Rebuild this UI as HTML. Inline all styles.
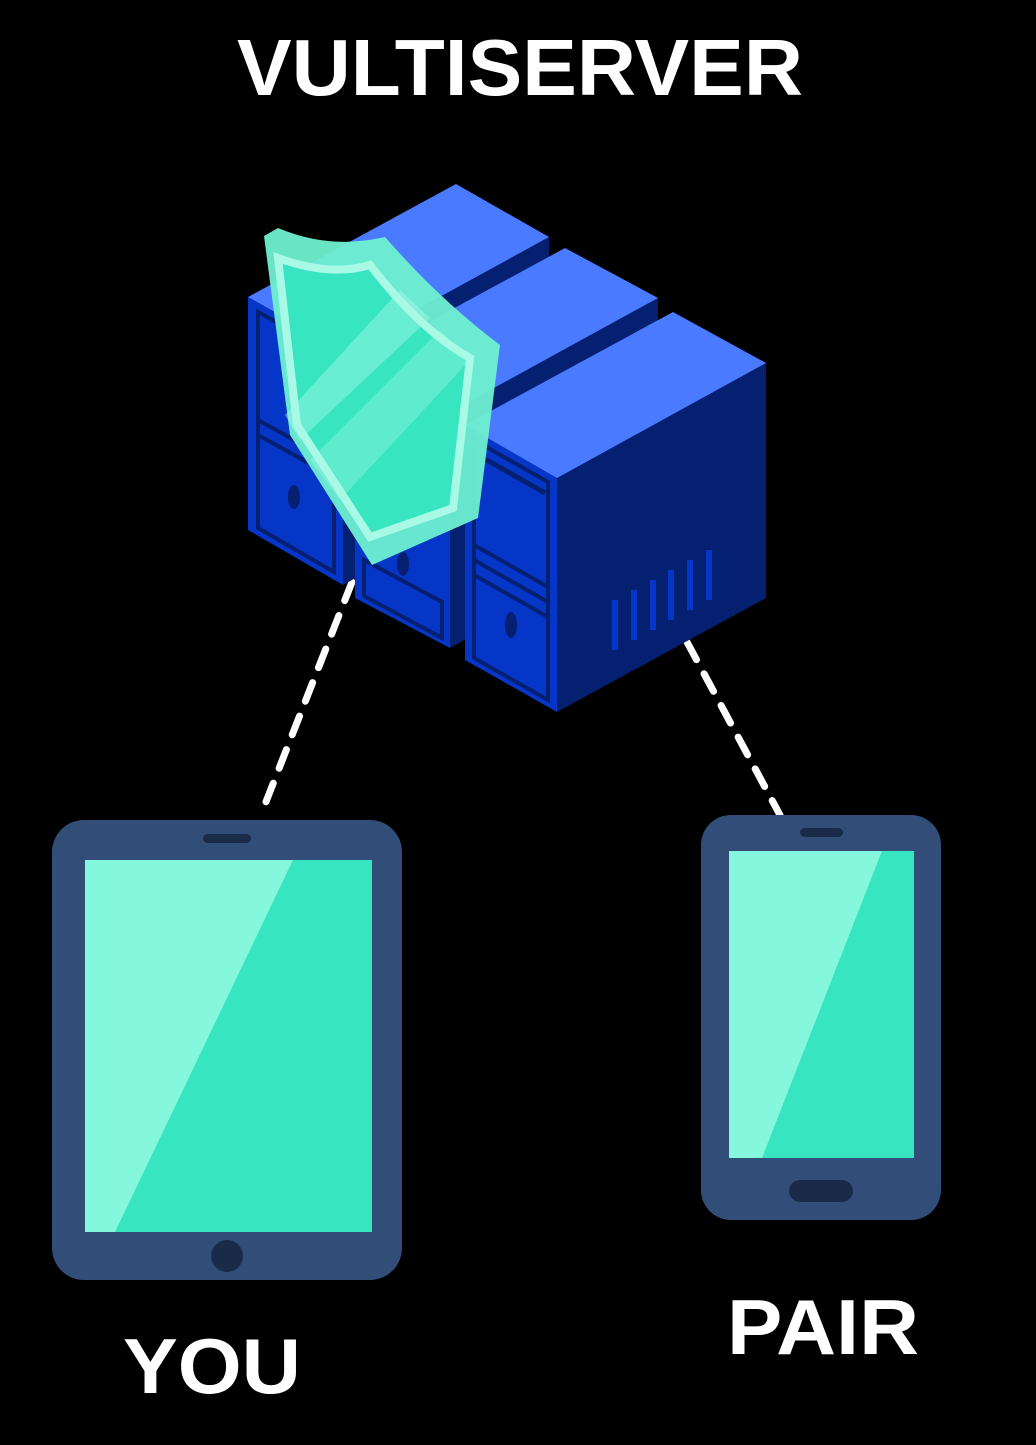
<!DOCTYPE html>
<html><head><meta charset="utf-8"><style>
html,body{margin:0;padding:0;background:#000;}
svg{display:block;}
text{font-family:"Liberation Sans",sans-serif;font-weight:bold;fill:#fff;}
</style></head><body>
<svg width="1036" height="1445" viewBox="0 0 1036 1445" xmlns="http://www.w3.org/2000/svg">
<rect width="1036" height="1445" fill="#000"/>
<text x="237" y="95" font-size="80" textLength="566" lengthAdjust="spacingAndGlyphs">VULTISERVER</text>

<!-- dashed connectors -->
<line x1="352" y1="582" x2="262" y2="812" stroke="#fff" stroke-width="7" stroke-dasharray="20 16" stroke-linecap="round"/>
<line x1="687" y1="642" x2="780" y2="815" stroke="#fff" stroke-width="7" stroke-dasharray="20 16" stroke-linecap="round"/>

<!-- Box 1 -->
<polygon points="343,350 549,237 549,470 343,585" fill="#052070"/>
<polygon points="248,297 343,350 343,585 248,530" fill="#0536c8"/>
<polygon points="248,297 456,184 549,237 343,350" fill="#4a7aff"/>
<polygon points="258,312 334,354 334,572 258,528" fill="none" stroke="#052070" stroke-width="4"/>
<line x1="258" y1="420" x2="334" y2="462" stroke="#052070" stroke-width="4"/>
<line x1="258" y1="435" x2="334" y2="477" stroke="#052070" stroke-width="4"/>
<ellipse cx="294" cy="497" rx="6" ry="12" fill="#052070"/>
<!-- Box 2 -->
<polygon points="450,412 658,298 658,530 450,648" fill="#052070"/>
<polygon points="355,362 450,412 450,648 355,598" fill="#0536c8"/>
<polygon points="355,362 565,248 658,298 450,412" fill="#4a7aff"/>
<polygon points="364,560 442,602 442,638 364,596" fill="none" stroke="#052070" stroke-width="4"/>
<ellipse cx="403" cy="564" rx="6" ry="12" fill="#052070"/>
<!-- Box 3 -->
<polygon points="557,478 766,363 766,598 557,712" fill="#052070"/>
<polygon points="465,425 557,478 557,712 465,660" fill="#0536c8"/>
<polygon points="465,425 673,312 766,363 557,478" fill="#4a7aff"/>
<polygon points="474,440 548,482 548,700 474,658" fill="none" stroke="#052070" stroke-width="4"/>
<line x1="474" y1="545" x2="548" y2="587" stroke="#052070" stroke-width="4"/>
<line x1="474" y1="560" x2="548" y2="602" stroke="#052070" stroke-width="4"/>
<line x1="474" y1="575" x2="548" y2="617" stroke="#052070" stroke-width="4"/>
<line x1="478" y1="455" x2="545" y2="493" stroke="#052070" stroke-width="5"/>
<ellipse cx="511" cy="625" rx="6" ry="13" fill="#052070"/>
<g stroke="#0536c8" stroke-width="6">
<line x1="615" y1="600" x2="615" y2="650"/>
<line x1="634" y1="590" x2="634" y2="640"/>
<line x1="653" y1="580" x2="653" y2="630"/>
<line x1="671" y1="570" x2="671" y2="620"/>
<line x1="690" y1="560" x2="690" y2="610"/>
<line x1="709" y1="550" x2="709" y2="600"/>
</g>

<!-- Shield -->
<path d="M264,236 L278,228 Q330,250 385,237 Q440,300 500,345 L478,518 L372,565 L290,435 Z" fill="#6ff0d0" opacity="0.95"/>
<path d="M278,258 Q330,277 370,265 Q420,330 470,358 L453,508 L370,537 L297,425 Z" fill="#37e5c0" stroke="#a8f9e6" stroke-width="8"/>
<polygon points="285,415 400,290 430,318 300,440" fill="#a8f9e6" opacity="0.45"/>
<polygon points="310,460 440,330 470,360 340,500" fill="#a8f9e6" opacity="0.35"/>

<!-- Tablet -->
<rect x="52" y="820" width="350" height="460" rx="32" fill="#324e78"/>
<rect x="85" y="860" width="287" height="372" fill="#37e5c0"/>
<polygon points="85,860 293,860 115,1232 85,1232" fill="#85f7dc"/>
<rect x="203" y="834" width="48" height="9" rx="4.5" fill="#1a2b4a"/>
<ellipse cx="227" cy="1256" rx="16" ry="16" fill="#1a2b4a"/>

<!-- Phone -->
<rect x="701" y="815" width="240" height="405" rx="30" fill="#324e78"/>
<rect x="729" y="851" width="185" height="307" fill="#37e5c0"/>
<polygon points="729,851 882,851 762,1158 729,1158" fill="#85f7dc"/>
<rect x="800" y="828" width="43" height="9" rx="4.5" fill="#1a2b4a"/>
<rect x="789" y="1180" width="64" height="22" rx="11" fill="#1a2b4a"/>

<text x="123" y="1393" font-size="78" textLength="178" lengthAdjust="spacingAndGlyphs">YOU</text>
<text x="727" y="1354" font-size="78" textLength="192" lengthAdjust="spacingAndGlyphs">PAIR</text>
</svg>
</body></html>
